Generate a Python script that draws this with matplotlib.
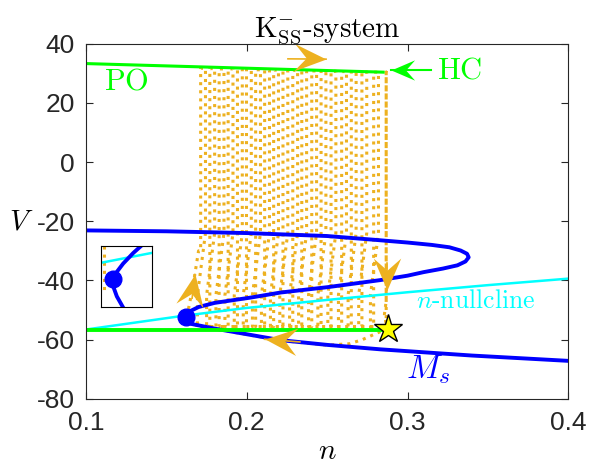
import numpy as np
import matplotlib
matplotlib.use("Agg")
import matplotlib.pyplot as plt
from matplotlib.path import Path
from matplotlib.markers import MarkerStyle
from matplotlib.transforms import Affine2D

plt.rcParams['font.family'] = ['Liberation Sans', 'DejaVu Sans']
plt.rcParams['mathtext.fontset'] = 'cm'
plt.rcParams['axes.unicode_minus'] = False

# critical manifold M_s (upper branch -> knee -> middle -> lower)
ms_n = [0.100, 0.150, 0.200, 0.250, 0.280, 0.300, 0.315, 0.326, 0.333, 0.337,
        0.338, 0.336, 0.331, 0.322, 0.310, 0.300, 0.283, 0.250, 0.221, 0.2025,
        0.180, 0.170, 0.164, 0.1615, 0.1625, 0.1654, 0.180, 0.200, 0.221, 0.250,
        0.283, 0.340, 0.400]
ms_V = [-23.1, -23.4, -24.0, -25.0, -26.3, -27.2, -28.0, -28.8, -29.9, -31.0,
        -32.2, -33.6, -34.9, -36.0, -37.2, -38.4, -39.9, -42.3, -44.1, -45.8,
        -47.6, -49.0, -50.6, -52.3, -53.5, -54.7, -56.3, -58.2, -60.2, -61.8,
        -63.3, -65.4, -67.2]

# n-nullcline
null_n = [0.10, 0.16, 0.20, 0.25, 0.30, 0.35, 0.40]
null_V = [-56.6, -52.0, -49.3, -46.6, -44.0, -41.6, -39.4]

# periodic orbit branch (PO) and lower green branch
po_n = [0.10, 0.2848]
po_V = [33.3, 30.4]
low_n = [0.10, 0.2878]
low_V = [-56.6, -56.6]

# equilibrium (dot) and end state (star)
eq_n, eq_V = 0.1623, -52.5
star_n, star_V = 0.2878, -56.3

# trajectory: start near the star, slide along the lower branch, jump up
start_n = [0.2878, 0.281, 0.272, 0.264, 0.250, 0.221, 0.200, 0.180, 0.1654, 0.1625, 0.1665, 0.1700]
start_V = [-56.3, -57.8, -60.0, -61.4, -61.9, -60.3, -58.3, -56.4, -54.8, -53.0, -42.0, -30.0]
# spikes of the burst
spike_n = [0.1713, 0.1770, 0.1828, 0.1884, 0.1942, 0.1998, 0.2055, 0.2111, 0.2167, 0.2225,
           0.2286, 0.2342, 0.2404, 0.2462, 0.2524, 0.2590, 0.2650, 0.2716, 0.2789, 0.2867]
spike_top = [31.7, 31.6, 31.5, 31.5, 31.4, 31.3, 31.2, 31.2, 31.1, 31.0,
             31.0, 30.9, 30.8, 30.8, 30.7, 30.6, 30.6, 30.5, 30.4, 30.4]
spike_bottom = -55.6
# final descent onto the star
end_n = [0.2867, 0.2867, 0.2856, 0.2866, 0.2878]
end_V = [30.4, -47.0, -51.5, -54.5, -56.3]

# orange direction arrows (tip, tail, angle in degrees)
arrow_tip_n = [0.2493, 0.2875, 0.2111, 0.1677]
arrow_tip_V = [34.8, -43.2, -59.9, -38.0]
arrow_tail_n = [0.2256, 0.2875, 0.2330, 0.1660]
arrow_tail_V = [34.9, -34.0, -60.8, -46.0]
arrow_angle = [-3, -90, 175, 80]

# inset (zoom around the fold)
ins_ms_n = [0.1707, 0.1677, 0.1637, 0.1612, 0.1596, 0.1598, 0.1612, 0.1634]
ins_ms_V = [-48.0, -48.9, -50.3, -51.4, -52.3, -53.3, -54.6, -55.9]
ins_null_n = [0.155, 0.175]
ins_null_V = [-50.2, -48.9]
ins_traj_n = [0.1562, 0.1562]
ins_traj_V = [-48.0, -53.8]

orange = '#EDB120'
green = '#00FF00'
cyan = '#00FFFF'
blue = '#0000FF'
head = Path([(0, 0), (-1, 0.43), (-0.62, 0), (-1, -0.43), (0, 0)],
            [Path.MOVETO, Path.LINETO, Path.LINETO, Path.LINETO, Path.CLOSEPOLY])


def head_marker(angle):
    return MarkerStyle(head, transform=Affine2D().rotate_deg(angle))


# build the bursting trajectory
traj_n = list(start_n)
traj_V = list(start_V)
for i, (n0, top) in enumerate(zip(spike_n[:-1], spike_top[:-1])):
    traj_n += [n0, n0, n0 + 0.003, n0 + 0.003, n0 - 0.002, n0 - 0.002]
    traj_V += [spike_bottom if i else -30.0, top, top, -24.0, -45.0, spike_bottom]
traj_n += [spike_n[-1]] + end_n
traj_V += [spike_bottom] + end_V

fig = plt.figure(figsize=(5.9, 4.67), dpi=100)
ax = fig.add_axes([0.1458, 0.1462, 0.8175, 0.7601])

ax.plot(traj_n, traj_V, ':', color=orange, lw=2.2)
ax.plot(ms_n, ms_V, '-', color=blue, lw=2.8)
ax.plot(null_n, null_V, '-', color=cyan, lw=1.8)
ax.plot(po_n, po_V, '-', color=green, lw=2.2)
ax.plot(low_n, low_V, '-', color=green, lw=2.8)

for tn, tv, sn, sv, a in zip(arrow_tip_n, arrow_tip_V, arrow_tail_n, arrow_tail_V, arrow_angle):
    ax.plot([sn, tn], [sv, tv], '-', color=orange, lw=1.2)
    ax.plot(tn, tv, marker=head_marker(a), ms=46, color=orange, mec='none')

# HC arrow
ax.plot([0.3144, 0.2896], [31.0, 31.0], '-', color=green, lw=1.5)
ax.plot(0.2896, 31.0, marker=head_marker(180), ms=34, color=green, mec='none')

ax.plot(eq_n, eq_V, 'o', color=blue, ms=12)
ax.plot(star_n, star_V, '*', mfc='#FFFF00', mec='k', mew=1, ms=21)

ax.text(0.111, 27.4, r'$\mathrm{PO}$', color=green, fontsize=22, va='center')
ax.text(0.3186, 31.0, r'$\mathrm{HC}$', color=green, fontsize=22, va='center')
ax.text(0.305, -46.9, r'$n\text{-nullcline}$', color=cyan, fontsize=18.5, va='center')
ax.text(0.2989, -70.3, r'$M_s$', color=blue, fontsize=24, va='center')

ax.set_xlim(0.1, 0.4)
ax.set_ylim(-80, 40)
ax.set_xticks([0.1, 0.2, 0.3, 0.4])
ax.set_yticks([-80, -60, -40, -20, 0, 20, 40])
ax.tick_params(direction='in', length=5, labelsize=19, top=True, right=True,
               colors='#262626', labelcolor='#262626')
ax.tick_params(axis='x', pad=9)
ax.tick_params(axis='y', pad=8)
for sp in ax.spines.values():
    sp.set_color('#262626')
ax.set_xlabel(r'$n$', fontsize=21, labelpad=1)
ax.set_ylabel(r'$V$', fontsize=21, rotation=0, va='center', ha='center')
ax.yaxis.set_label_coords(-0.135, 0.5)
ax.set_title(r'$\mathrm{K}_{\mathrm{SS}}^{-}\text{-system}$', fontsize=21, pad=5)

# inset
ins = fig.add_axes([0.1712, 0.3426, 0.0864, 0.1306])
ins.plot(ins_traj_n, ins_traj_V, ':', color=orange, lw=2.2)
ins.plot(ins_null_n, ins_null_V, '-', color=cyan, lw=1.8)
ins.plot(ins_ms_n, ins_ms_V, '-', color=blue, lw=2.8)
ins.plot(0.1596, -52.3, 'o', color=blue, ms=12)
ins.set_xlim(0.155, 0.175)
ins.set_ylim(-56, -48)
ins.set_xticks([])
ins.set_yticks([])

fig.savefig('out.png', dpi=100)
